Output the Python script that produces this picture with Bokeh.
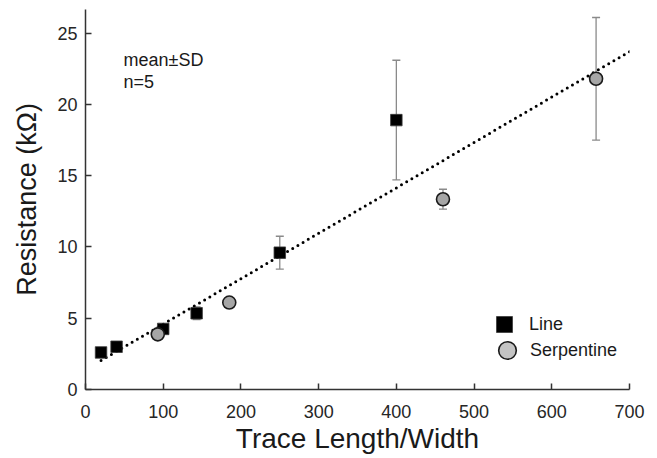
import numpy as np
from bokeh.plotting import figure
from bokeh.models import (Range1d, ColumnDataSource, Whisker, TeeHead, Legend,
                          LegendItem, Label, FixedTicker)
from bokeh.embed import file_html
from bokeh.resources import INLINE

# ---- data ----
line_x = [20, 40, 100, 143, 250, 400]
line_y = [2.6, 3.0, 4.25, 5.35, 9.6, 18.9]
line_sd = [0.2, 0.2, 0.2, 0.45, 1.15, 4.2]

serp_x = [93, 185, 460, 657]
serp_y = [3.87, 6.1, 13.35, 21.8]
serp_sd = [0.2, 0.3, 0.7, 4.3]

x_ticks = [0, 100, 200, 300, 400, 500, 600, 700]
y_ticks = [0, 5, 10, 15, 20, 25]
x_max = 700
y_max = 26.66

FONT = "Liberation Sans"

p = figure(width=649, height=456, output_backend="svg", toolbar_location=None,
           x_range=Range1d(0, x_max), y_range=Range1d(0, y_max),
           min_border_left=85, min_border_right=20, min_border_top=9,
           min_border_bottom=67)
p.outline_line_color = None
p.xgrid.visible = False
p.ygrid.visible = False

for ax in (p.xaxis[0], p.yaxis[0]):
    ax.axis_line_color = "#333333"
    ax.axis_line_width = 1.5
    ax.major_tick_line_color = "#333333"
    ax.major_tick_line_width = 1.5
    ax.major_tick_in = 6
    ax.major_tick_out = 0
    ax.minor_tick_line_color = None
    ax.major_label_text_font = FONT
    ax.major_label_text_font_size = "18px"
    ax.major_label_text_color = "#262626"
    ax.axis_label_text_font = FONT
    ax.axis_label_text_font_style = "normal"
    ax.axis_label_text_color = "#1a1a1a"

p.xaxis[0].ticker = FixedTicker(ticks=x_ticks)
p.yaxis[0].ticker = FixedTicker(ticks=y_ticks)
p.xaxis[0].axis_label = "Trace Length/Width"
p.yaxis[0].axis_label = "Resistance (kΩ)"
p.xaxis[0].axis_label_text_font_size = "28px"
p.yaxis[0].axis_label_text_font_size = "27px"
p.xaxis[0].major_label_standoff = 15
p.xaxis[0].axis_label_standoff = 2
p.yaxis[0].major_label_standoff = 8
p.yaxis[0].axis_label_standoff = 12

# ---- trend line (linear fit of all points) ----
all_x = np.array(line_x + serp_x, dtype=float)
all_y = np.array(line_y + serp_y, dtype=float)
slope, intercept = np.polyfit(all_x, all_y, 1)
trend_x = [all_x.min(), x_max]
trend_y = [slope * v + intercept for v in trend_x]
p.line(trend_x, trend_y, line_color="black", line_width=3,
       line_dash="0 6", line_cap="round")

# ---- error bars ----
def add_err(xs, ys, sds):
    src = ColumnDataSource(dict(x=xs, lo=[y - s for y, s in zip(ys, sds)],
                                hi=[y + s for y, s in zip(ys, sds)]))
    w = Whisker(source=src, base="x", lower="lo", upper="hi",
                line_color="#8a8a8a", line_width=1.3, level="underlay",
                upper_head=TeeHead(size=8, line_color="#8a8a8a", line_width=1.3),
                lower_head=TeeHead(size=8, line_color="#8a8a8a", line_width=1.3))
    p.add_layout(w)

add_err(line_x, line_y, line_sd)
add_err(serp_x, serp_y, serp_sd)

# ---- markers ----
p.scatter(line_x, line_y, marker="square", size=11.5, fill_color="black",
          line_color="#3a3a3a", line_width=0.8)
p.scatter(serp_x, serp_y, marker="circle", size=13, fill_color="#a6a6a6",
          line_color="#1a1a1a", line_width=1.6)

# ---- legend (key-only renderers, no visible data) ----
r_leg_line = p.scatter([np.nan], [np.nan], marker="square", fill_color="black",
                       line_color="#3a3a3a", line_width=0.8)
r_leg_serp = p.scatter([np.nan], [np.nan], marker="circle", fill_color="#c4c4c4",
                       line_color="#1a1a1a", line_width=1.6)

common = dict(padding=0, margin=0, border_line_color=None,
              background_fill_alpha=0, label_text_font=FONT,
              label_text_font_size="18px", label_text_color="#1a1a1a",
              spacing=0)
leg1 = Legend(items=[LegendItem(label="Line", renderers=[r_leg_line], index=0)],
              location=(399, 45), glyph_width=40, glyph_height=40,
              label_standoff=5, **common)
leg2 = Legend(items=[LegendItem(label="Serpentine", renderers=[r_leg_serp], index=0)],
              location=(400, 17), glyph_width=44, glyph_height=44,
              label_standoff=1, **common)
p.add_layout(leg1)
p.add_layout(leg2)

# ---- annotation text ----
p.add_layout(Label(x=49, y=23.09, text="mean±SD", text_baseline="middle",
                   text_font=FONT, text_font_size="18px", text_color="#1a1a1a"))
p.add_layout(Label(x=49, y=21.54, text="n=5", text_baseline="middle",
                   text_font=FONT, text_font_size="18px", text_color="#1a1a1a"))

open("out.html", "w").write(file_html(p, INLINE))
